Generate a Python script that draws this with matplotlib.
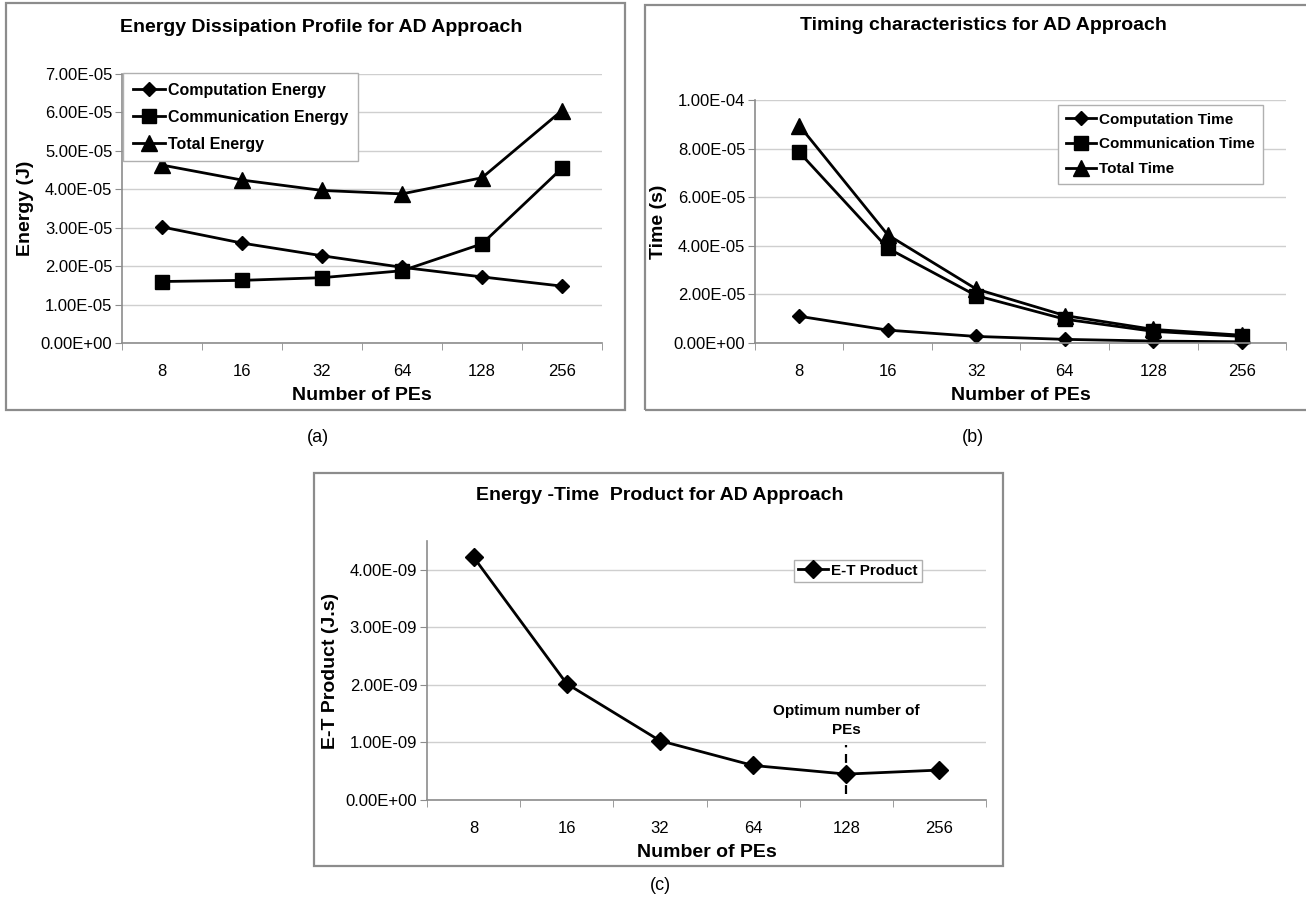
import matplotlib
matplotlib.use("Agg")
import matplotlib.pyplot as plt
from matplotlib import font_manager
from matplotlib.patches import Rectangle
from matplotlib.ticker import FuncFormatter

# ---- data --------------------------------------------------------------
pes = ["8", "16", "32", "64", "128", "256"]

comp_energy = [3.02e-5, 2.60e-5, 2.27e-5, 1.97e-5, 1.72e-5, 1.48e-5]
comm_energy = [1.60e-5, 1.63e-5, 1.70e-5, 1.88e-5, 2.58e-5, 4.55e-5]
total_energy = [4.63e-5, 4.24e-5, 3.97e-5, 3.88e-5, 4.30e-5, 6.05e-5]

comp_time = [1.10e-5, 0.53e-5, 0.27e-5, 0.15e-5, 0.08e-5, 0.05e-5]
comm_time = [7.85e-5, 3.90e-5, 1.95e-5, 0.98e-5, 0.48e-5, 0.27e-5]
total_time = [8.95e-5, 4.45e-5, 2.22e-5, 1.13e-5, 0.56e-5, 0.32e-5]

et_product = [4.22e-9, 2.02e-9, 1.03e-9, 0.60e-9, 0.45e-9, 0.52e-9]

# ---- style ---------------------------------------------------------------
names = {f.name for f in font_manager.fontManager.ttflist}
FONT = "Liberation Sans Narrow" if "Liberation Sans Narrow" in names else "Liberation Sans"
plt.rcParams["font.family"] = [FONT, "DejaVu Sans"]

W, H = 1306, 914
fig = plt.figure(figsize=(W / 100, H / 100), dpi=100)


def px_box(x0, y0, x1, y1):
    """Convert a pixel box (top-left origin) to figure fraction [l, b, w, h]."""
    return [x0 / W, 1 - y1 / H, (x1 - x0) / W, (y1 - y0) / H]


def frame(x0, y0, x1, y1):
    l, b, w, h = px_box(x0, y0, x1, y1)
    fig.patches.append(Rectangle((l, b), w, h, transform=fig.transFigure,
                                 fill=False, ec="#8c8c8c", lw=1.6))


def ftext(xp, yp, s, **kw):
    fig.text(xp / W, 1 - yp / H, s, ha="center", va="center", **kw)


sci = FuncFormatter(lambda v, _: f"{v:.2E}")


def style_axes(ax, ymax, step, xlabel, ylabel):
    ax.set_xlim(-0.5, len(pes) - 0.5)
    ax.set_ylim(0, ymax)
    ax.set_xticks(list(range(len(pes))))
    ax.set_xticklabels(pes, fontsize=12)
    ax.tick_params(axis="x", length=0, pad=15)
    ax.set_xticks([i - 0.5 for i in range(len(pes) + 1)], minor=True)
    ax.tick_params(axis="x", which="minor", length=5, color="#8c8c8c")
    yt = []
    v = 0.0
    while v <= ymax + 1e-20:
        yt.append(v)
        v += step
    ax.set_yticks(yt)
    ax.yaxis.set_major_formatter(sci)
    ax.tick_params(axis="y", length=5, color="#8c8c8c", labelsize=12, pad=2)
    ax.grid(axis="y", color="#cfcfcf", lw=1)
    ax.set_axisbelow(True)
    for s in ("top", "right"):
        ax.spines[s].set_visible(False)
    for s in ("left", "bottom"):
        ax.spines[s].set_color("#8c8c8c")
        ax.spines[s].set_linewidth(1.2)
    ax.set_xlabel(xlabel, fontsize=14, fontweight="bold", labelpad=6)
    ax.set_ylabel(ylabel, fontsize=14, fontweight="bold", labelpad=5)


line_kw = dict(color="black", lw=2, clip_on=False)


def leg_kw(size):
    return dict(frameon=True, fancybox=False, edgecolor="#b0b0b0", framealpha=1,
                prop={"weight": "bold", "size": size}, handlelength=2.0,
                handletextpad=0.2, borderaxespad=0)


x = list(range(len(pes)))

# ---- (a) energy ---------------------------------------------------------
frame(6, 3, 625, 410)
ax = fig.add_axes(px_box(122, 74, 602, 343))
ax.plot(x, comp_energy, marker="D", ms=7.5, label="Computation Energy", **line_kw)
ax.plot(x, comm_energy, marker="s", ms=10, label="Communication Energy", **line_kw)
ax.plot(x, total_energy, marker="^", ms=11, label="Total Energy", **line_kw)
style_axes(ax, 7e-5, 1e-5, "Number of PEs", "Energy (J)")
ftext(321, 28, "Energy Dissipation Profile for AD Approach", fontsize=14, fontweight="bold")
l, b, w, h = px_box(123, 73, 371, 156)
ax.legend(loc="upper left", bbox_to_anchor=(l, b + h), bbox_transform=fig.transFigure,
          labelspacing=0.75, borderpad=0.6, **leg_kw(11.5))
ftext(318, 437, "(a)", fontsize=13, family="Liberation Sans")

# ---- (b) time -----------------------------------------------------------
frame(645, 5, 1320, 410)
ax = fig.add_axes(px_box(755, 100, 1286, 343))
ax.plot(x, comp_time, marker="D", ms=7.5, label="Computation Time", **line_kw)
ax.plot(x, comm_time, marker="s", ms=10, label="Communication Time", **line_kw)
ax.plot(x, total_time, marker="^", ms=11, label="Total Time", **line_kw)
style_axes(ax, 1e-4, 2e-5, "Number of PEs", "Time (s)")
ftext(983, 26, "Timing characteristics for AD Approach", fontsize=14, fontweight="bold")
l, b, w, h = px_box(1058, 105, 1248, 177)
ax.legend(loc="upper left", bbox_to_anchor=(l, b + h), bbox_transform=fig.transFigure,
          labelspacing=0.7, borderpad=0.5, **leg_kw(11))
ftext(973, 437, "(b)", fontsize=13, family="Liberation Sans")

# ---- (c) energy-time product --------------------------------------------
frame(314, 473, 1003, 866)
ax = fig.add_axes(px_box(427, 541, 986, 800))
ax.plot(x, et_product, marker="D", ms=9.5, label="E-T Product", **line_kw)
style_axes(ax, 4.5e-9, 1e-9, "Number of PEs", "E-T Product (J.s)")
ax.set_yticks([0, 1e-9, 2e-9, 3e-9, 4e-9])
ftext(660, 496, "Energy -Time  Product for AD Approach", fontsize=14, fontweight="bold")
l, b, w, h = px_box(794, 560, 924, 584)
ax.legend(loc="upper left", bbox_to_anchor=(l, b + h), bbox_transform=fig.transFigure,
          borderpad=0.25, **leg_kw(11))
opt = pes.index("128")
ax.vlines(opt, 0.1e-9, 0.95e-9, color="black", lw=1.6, linestyles=(0, (4, 3)))
ax.text(opt, 1.38e-9, "Optimum number of\nPEs", ha="center", va="center",
        fontsize=11, fontweight="bold", linespacing=1.4)
ftext(660, 885, "(c)", fontsize=13, family="Liberation Sans")

fig.savefig("out.png", dpi=100)
